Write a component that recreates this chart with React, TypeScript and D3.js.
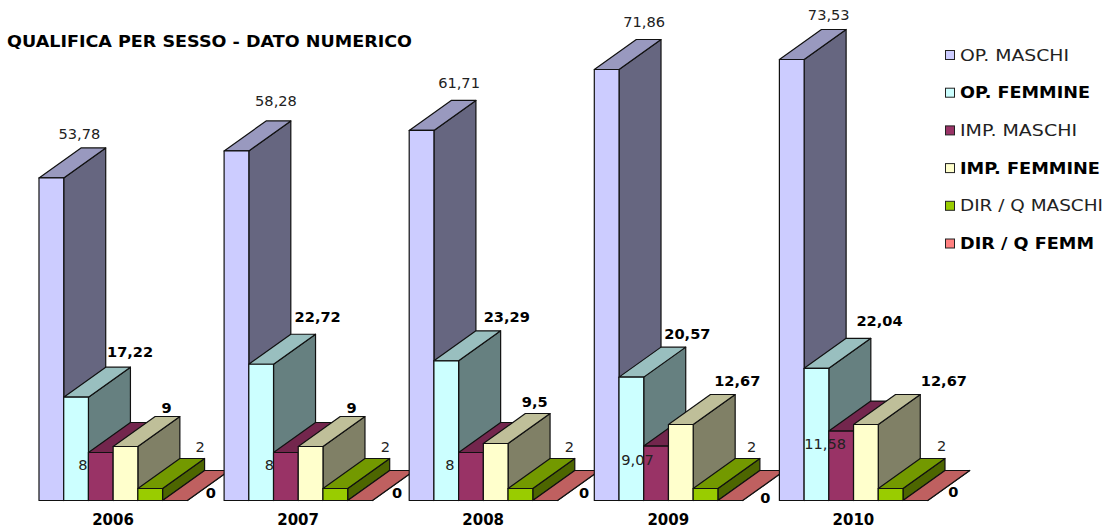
import React from 'react';
import * as d3 from 'd3';

const years = ['2006', '2007', '2008', '2009', '2010'];
const seriesNames = ['OP. MASCHI', 'OP. FEMMINE', 'IMP. MASCHI', 'IMP. FEMMINE', 'DIR / Q MASCHI', 'DIR / Q FEMM'];
const seriesColors = ['#CCCCFF', '#CCFFFF', '#993366', '#FFFFCC', '#99CC00', '#FF8080'];
const opMaschi = [53.78, 58.28, 61.71, 71.86, 73.53];
const opFemmine = [17.22, 22.72, 23.29, 20.57, 22.04];
const impMaschi = [8, 8, 8, 9.07, 11.58];
const impFemmine = [9, 9, 9.5, 12.67, 12.67];
const dirMaschi = [2, 2, 2, 2, 2];
const dirFemm = [0, 0, 0, 0, 0];
const allSeries = [opMaschi, opFemmine, impMaschi, impFemmine, dirMaschi, dirFemm];

// label nudges from each bar's front-top-centre: [dx, dy] per series, per year
const labelNudges = [
  [[28, -39], [39.5, -45], [37.5, -42], [37.5, -43], [37, -40]],
  [[54, -40], [56.5, -42], [60.5, -39], [56, -38], [63, -42]],
  [[-18, 17], [-16.5, 17], [-21, 17], [-18.5, 19], [-16, 18]],
  [[41, -34], [41, -34], [39, -37], [56.5, -39], [78, -39]],
  [[50, -37], [50, -37], [49, -37], [46, -37], [51, -38]],
  [[36, -3], [37, -3], [39, -3], [35, 2], [38, -4]],
];
// rendered widths of the legend labels and the title
const legendWidths = [109, 130, 117, 140, 143, 134];
const titleWidth = 405;

const fmt = (v: number) => String(v).replace('.', ',');
const FONT = '"DejaVu Sans", Verdana, sans-serif';
const DEPTH_X = 42;
const DEPTH_Y = 30;

const x0 = d3.scaleBand<string>().domain(years).range([39, 964.5]);
const x1 = d3.scaleBand<number>().domain(d3.range(6)).range([0, 148.3]);
const y = d3.scaleLinear().domain([0, 73.53]).range([500.5, 59.5]);

function shade(c: string, k: number) {
  const r = d3.rgb(c);
  return d3.rgb(r.r * k, r.g * k, r.b * k).formatHex();
}

function Bar({ x, w, top, color }: { x: number; w: number; top: number; color: string }) {
  const base = y(0);
  const poly = (pts: [number, number][]) => d3.line()(pts) + 'Z';
  return (
    <g stroke="#111" strokeWidth={1.2} strokeLinejoin="round">
      <path d={poly([[x + w, top], [x + w + DEPTH_X, top - DEPTH_Y], [x + w + DEPTH_X, base - DEPTH_Y], [x + w, base]])} fill={shade(color, 0.5)} />
      <path d={poly([[x, top], [x + DEPTH_X, top - DEPTH_Y], [x + w + DEPTH_X, top - DEPTH_Y], [x + w, top]])} fill={shade(color, 0.75)} />
      {top < base && <rect x={x} y={top} width={w} height={base - top} fill={color} />}
    </g>
  );
}

export default function App() {
  return (
    <svg width={1104} height={530} style={{ position: 'absolute', left: 0, top: 0, background: '#fff' }} fontFamily={FONT}>
      <text x={7} y={46.5} fontSize={16} fontWeight="bold" fill="#000" textLength={titleWidth} lengthAdjust="spacingAndGlyphs">QUALIFICA PER SESSO -  DATO NUMERICO</text>
      {years.map((yr, i) => (
        <g key={yr}>
          {allSeries.map((s, k) => (
            <Bar key={k} x={x0(yr)! + x1(k)!} w={x1.bandwidth()} top={y(s[i])} color={seriesColors[k]} />
          ))}
          <line x1={x0(yr)!} x2={x0(yr)! + 148.3} y1={y(0)} y2={y(0)} stroke="#111" strokeWidth={1.2} />
        </g>
      ))}
      {years.map((yr, i) => (
        <g key={yr}>
          {allSeries.map((s, k) => (
            <text
              key={k}
              x={x0(yr)! + x1(k)! + x1.bandwidth() / 2 + labelNudges[k][i][0]}
              y={y(s[i]) + labelNudges[k][i][1]}
              textAnchor="middle"
              fontSize={14.6}
              fontWeight={k % 2 ? 'bold' : 'normal'}
              fill={k % 2 ? '#000' : '#222'}
            >
              {fmt(s[i])}
            </text>
          ))}
          <text x={x0(yr)! + 74} y={524.5} textAnchor="middle" fontSize={15} fontWeight="bold" fill="#000">{yr}</text>
        </g>
      ))}
      {seriesNames.map((n, k) => {
        const cy = 55 + k * 37.7;
        return (
          <g key={n}>
            <rect x={945.5} y={cy - 4.5} width={9} height={9} fill={seriesColors[k]} stroke="#222" strokeWidth={1} />
            <text x={960} y={cy + 5.5} fontSize={15} fontWeight={k % 2 ? 'bold' : 'normal'} fill={k % 2 ? '#000' : '#222'} textLength={legendWidths[k]} lengthAdjust="spacingAndGlyphs">{n}</text>
          </g>
        );
      })}
    </svg>
  );
}
